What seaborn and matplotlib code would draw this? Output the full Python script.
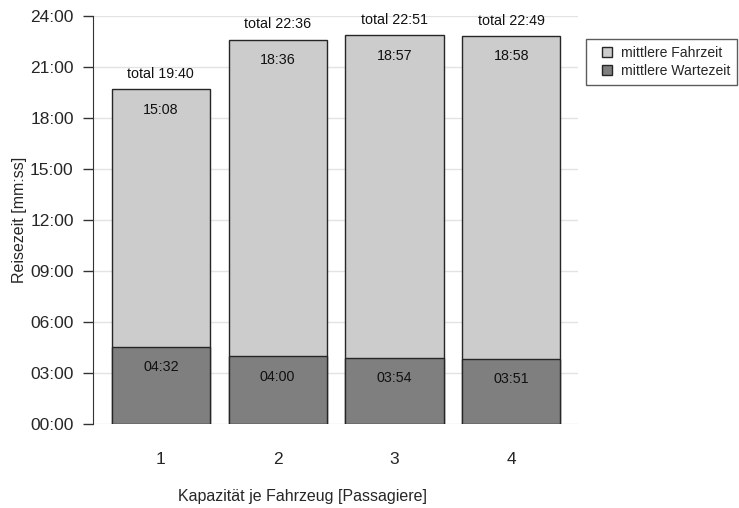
import numpy as np
import pandas as pd
import matplotlib
matplotlib.use("Agg")
import matplotlib.pyplot as plt
import seaborn as sns
from matplotlib.lines import Line2D
from matplotlib.ticker import FuncFormatter, MultipleLocator

sns.set_style("white")
plt.rcParams["font.family"] = ["Liberation Sans", "DejaVu Sans"]

capacity = ["1", "2", "3", "4"]
wait_time = ["04:32", "04:00", "03:54", "03:51"]
drive_time = ["15:08", "18:36", "18:57", "18:58"]
total_time = ["19:40", "22:36", "22:51", "22:49"]


def to_min(s):
    m, sec = s.split(":")
    return int(m) + int(sec) / 60


df = pd.DataFrame({
    "cap": capacity,
    "wait": [to_min(s) for s in wait_time],
    "drive": [to_min(s) for s in drive_time],
    "total": [to_min(s) for s in total_time],
})

light = "#cccccc"
dark = "#7f7f7f"
edge = "#262626"

fig = plt.figure(figsize=(7.39, 5.08), dpi=100)
ax = fig.add_axes([0.126, 0.165, 0.656, 0.804])

sns.barplot(data=df, x="cap", y="total", color=light, edgecolor=edge,
            linewidth=1.0, width=0.84, saturation=1, ax=ax, zorder=2)
sns.barplot(data=df, x="cap", y="wait", color=dark, edgecolor=edge,
            linewidth=1.0, width=0.84, saturation=1, ax=ax, zorder=3)

for i, row in df.iterrows():
    ax.text(i, row["total"] + 0.9, "total " + total_time[i], ha="center",
            va="center", fontsize=10.3, color="#111111")
    ax.text(i, row["total"] - 1.2, drive_time[i], ha="center",
            va="center", fontsize=10.3, color="#111111", zorder=4)
    ax.text(i, row["wait"] - 1.2, wait_time[i], ha="center",
            va="center", fontsize=10.3, color="#111111", zorder=4)

ax.set_ylim(0, 24)
ax.set_xlim(-0.58, 3.57)
ax.yaxis.set_major_locator(MultipleLocator(3))
ax.yaxis.set_major_formatter(FuncFormatter(lambda v, p: f"{int(v):02d}:00"))
ax.grid(axis="y", color="#e3e3e3", linewidth=1.0, zorder=0)
ax.set_axisbelow(True)

for s in ["top", "right", "bottom"]:
    ax.spines[s].set_visible(False)
ax.spines["left"].set_color("#333333")
ax.spines["left"].set_bounds(0, 24)
ax.tick_params(axis="y", direction="out", length=7, width=1, color="#333333",
               labelsize=12.5, left=True, pad=7)
ax.tick_params(axis="x", length=0, labelsize=12.5, pad=20)

ax.set_xlabel("Kapazität je Fahrzeug [Passagiere]", fontsize=11.5)
ax.xaxis.set_label_coords(0.431, -0.158)
ax.set_ylabel("Reisezeit [mm:ss]", fontsize=11.5, labelpad=2)

handles = [Line2D([], [], marker="s", linestyle="none", markersize=7,
                  markerfacecolor=light, markeredgecolor=edge, label="mittlere Fahrzeit"),
           Line2D([], [], marker="s", linestyle="none", markersize=7,
                  markerfacecolor=dark, markeredgecolor=edge, label="mittlere Wartezeit")]
leg = fig.legend(handles=handles, loc="upper left", bbox_to_anchor=(0.793, 0.924),
                 fontsize=10.1, frameon=True, fancybox=False, handlelength=2.0,
                 handletextpad=0.0, borderpad=0.5, labelspacing=0.32,
                 borderaxespad=0)
leg.get_frame().set_edgecolor("#333333")
leg.get_frame().set_linewidth(1.0)

fig.savefig("out.png", dpi=100)
